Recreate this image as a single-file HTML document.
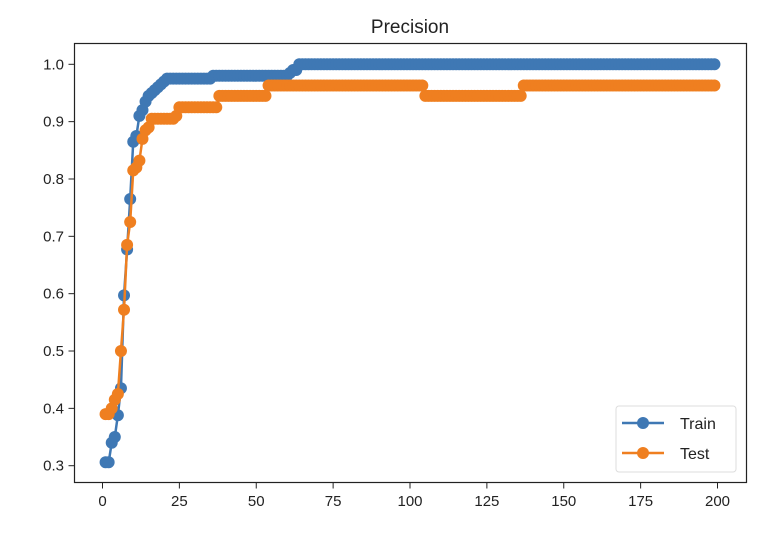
<!DOCTYPE html>
<html><head><meta charset="utf-8"><style>
html,body{margin:0;padding:0;background:#fff;}
svg text{font-family:"Liberation Sans","DejaVu Sans",sans-serif;fill:#222;}
</style></head><body>
<svg width="774" height="554" viewBox="0 0 774 554" xmlns="http://www.w3.org/2000/svg">
<rect x="0" y="0" width="774" height="554" fill="#fff"/>
<text x="410" y="33" font-size="19" text-anchor="middle">Precision</text>
<g id="plot"></g>
<rect x="74.5" y="43.5" width="672" height="439" fill="none" stroke="#222" stroke-width="1.2"/>
<g id="legend">
<rect x="616" y="406" width="120" height="66" rx="3" fill="#fff" stroke="#ddd"/>
<g>
<line x1="622" y1="423" x2="664" y2="423" stroke="#3f78b4" stroke-width="2.5"/>
<circle cx="643" cy="423" r="6" fill="#3f78b4"/>
<text x="680" y="429" font-size="16">Train</text></g>
<g>
<line x1="622" y1="453" x2="664" y2="453" stroke="#ef7f20" stroke-width="2.5"/>
<circle cx="643" cy="453" r="6" fill="#ef7f20"/>
<text x="680" y="459" font-size="16">Test</text></g>
</g>
</svg>
<script>
// Step data: value holds from the given epoch until the next change epoch
const trainEpochs = [1,3,4,5,6,7,8,9,10,11,12,13,14,15,16,17,18,19,20,21,36,61,62,64];
const trainValues = [0.306,0.34,0.35,0.388,0.435,0.597,0.677,0.765,0.865,0.875,0.91,0.92,0.935,0.945,0.95,0.955,0.96,0.965,0.97,0.975,0.98,0.985,0.99,1.0];
const testEpochs = [1,3,4,5,6,7,8,9,10,11,12,13,14,15,16,24,25,38,54,105,137];
const testValues = [0.39,0.40,0.415,0.425,0.50,0.572,0.685,0.725,0.815,0.82,0.832,0.87,0.885,0.89,0.905,0.91,0.925,0.945,0.963,0.945,0.963];
const lastEpoch = 199;
const xTicks = [0,25,50,75,100,125,150,175,200];
const yTicks = [0.3,0.4,0.5,0.6,0.7,0.8,0.9,1.0];

const X0=102.5, XS=(717.5-102.5)/200;
const Y0=64.3, YS=(465.7-64.3)/0.7;
function xPos(v){return X0+v*XS;}
function yPos(v){return Y0+(1.0-v)*YS;}
const NS="http://www.w3.org/2000/svg";
const svg=document.querySelector('svg');
const plot=document.getElementById('plot');

xTicks.forEach(t=>{
  const l=document.createElementNS(NS,'line');
  l.setAttribute('x1',xPos(t));l.setAttribute('x2',xPos(t));
  l.setAttribute('y1',482.5);l.setAttribute('y2',488.5);
  l.setAttribute('stroke','#222');
  
  
  svg.appendChild(l);
  const tx=document.createElementNS(NS,'text');
  tx.setAttribute('x',xPos(t));tx.setAttribute('y',506);
  tx.setAttribute('font-size','15');tx.setAttribute('text-anchor','middle');
  tx.textContent=t;
  
  
  svg.appendChild(tx);
});
yTicks.forEach(t=>{
  const l=document.createElementNS(NS,'line');
  l.setAttribute('x1',68.5);l.setAttribute('x2',74.5);
  l.setAttribute('y1',yPos(t));l.setAttribute('y2',yPos(t));
  l.setAttribute('stroke','#222');
  
  
  svg.appendChild(l);
  const tx=document.createElementNS(NS,'text');
  tx.setAttribute('x',64);tx.setAttribute('y',yPos(t)+5);
  tx.setAttribute('font-size','15');tx.setAttribute('text-anchor','end');
  tx.textContent=t.toFixed(1);
  
  
  svg.appendChild(tx);
});

function expand(eps,vals){
  const pts=[];
  for(let e=eps[0];e<=lastEpoch;e++){
    let v=vals[0];
    for(let i=0;i<eps.length;i++){if(eps[i]<=e)v=vals[i];}
    pts.push([e,v]);
  }
  return pts;
}
function drawSeries(eps,vals,color,name){
  const pts=expand(eps,vals);
  const g=document.createElementNS(NS,'g');
  
  
  const pl=document.createElementNS(NS,'polyline');
  pl.setAttribute('points',pts.map(p=>xPos(p[0])+','+yPos(p[1])).join(' '));
  pl.setAttribute('fill','none');pl.setAttribute('stroke',color);pl.setAttribute('stroke-width','2.5');
  
  
  g.appendChild(pl);
  pts.forEach(p=>{
    const c=document.createElementNS(NS,'circle');
    c.setAttribute('cx',xPos(p[0]));c.setAttribute('cy',yPos(p[1]));c.setAttribute('r',6);
    c.setAttribute('fill',color);
    
    
    g.appendChild(c);
  });
  plot.appendChild(g);
}
drawSeries(trainEpochs,trainValues,'#3f78b4','train');
drawSeries(testEpochs,testValues,'#ef7f20','test');
</script>
</body></html>
